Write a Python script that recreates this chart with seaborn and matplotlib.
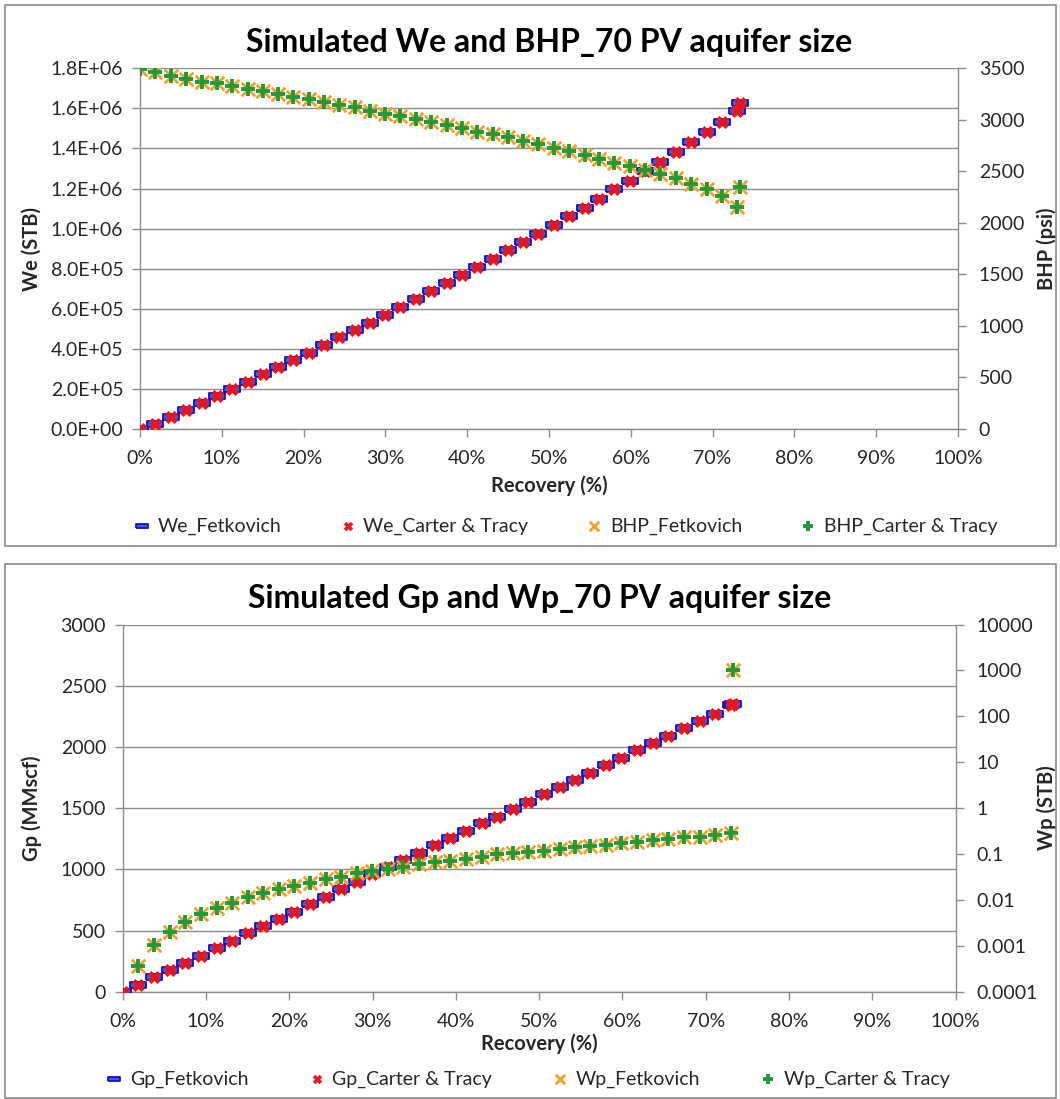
import numpy as np
import pandas as pd
import matplotlib
matplotlib.use("Agg")
import matplotlib.pyplot as plt
import seaborn as sns
from matplotlib.ticker import FuncFormatter, MultipleLocator, FixedLocator, NullLocator
from matplotlib.patches import Rectangle

# ---------------- data ----------------
recovery = [0.00, 1.85, 3.76, 5.62, 7.52, 9.40, 11.30, 13.18, 15.04, 16.90, 18.76,
            20.62, 22.48, 24.35, 26.24, 28.12, 29.98, 31.84, 33.70, 35.60, 37.48,
            39.35, 41.20, 43.10, 44.95, 46.82, 48.70, 50.56, 52.46, 54.34, 56.10,
            58.00, 59.85, 61.74, 63.61, 65.48, 67.42, 69.27, 71.12, 73.03, 73.31]

we_fetkovich = [0, 26000, 58000, 93000, 128000, 163000, 198000, 235000, 273000, 309000,
                344000, 381000, 418000, 458000, 492000, 530000, 569000, 607000, 647000,
                689000, 727000, 768000, 810000, 847000, 893000, 933000, 973000, 1016000,
                1063000, 1104000, 1148000, 1196000, 1239000, 1287000, 1334000, 1381000,
                1431000, 1482000, 1533000, 1587000, 1625000]
we_carter_tracy = [0, 26000, 58000, 93000, 128000, 163000, 198000, 235000, 273000, 309000,
                   344000, 381000, 418000, 458000, 492000, 530000, 569000, 607000, 647000,
                   689000, 727000, 768000, 810000, 847000, 893000, 933000, 973000, 1016000,
                   1063000, 1104000, 1148000, 1196000, 1239000, 1287000, 1334000, 1381000,
                   1431000, 1482000, 1533000, 1587000, 1625000]

bhp_fetkovich = [3495, 3461, 3428, 3393, 3370, 3354, 3328, 3299, 3277, 3253, 3224, 3199,
                 3170, 3144, 3120, 3089, 3056, 3037, 3008, 2976, 2950, 2918, 2885, 2862,
                 2830, 2797, 2765, 2730, 2697, 2659, 2620, 2578, 2552, 2513, 2471, 2433,
                 2377, 2326, 2261, 2157, 2345]
bhp_carter_tracy = [3495, 3461, 3428, 3393, 3370, 3354, 3328, 3299, 3277, 3253, 3224, 3199,
                    3170, 3144, 3120, 3089, 3056, 3037, 3008, 2976, 2950, 2918, 2885, 2862,
                    2830, 2797, 2765, 2730, 2697, 2659, 2620, 2578, 2552, 2513, 2471, 2433,
                    2377, 2326, 2261, 2157, 2345]

gp_fetkovich = [0, 55, 117, 177, 237, 292, 355, 417, 477, 537, 594, 654, 717, 776, 839,
                894, 959, 1016, 1076, 1131, 1197, 1253, 1315, 1376, 1430, 1493, 1552, 1615,
                1675, 1730, 1789, 1852, 1912, 1975, 2029, 2092, 2152, 2212, 2266, 2342, 2350]
gp_carter_tracy = [0, 55, 117, 177, 237, 292, 355, 417, 477, 537, 594, 654, 717, 776, 839,
                   894, 959, 1016, 1076, 1131, 1197, 1253, 1315, 1376, 1430, 1493, 1552, 1615,
                   1675, 1730, 1789, 1852, 1912, 1975, 2029, 2092, 2152, 2212, 2266, 2342, 2350]

wp_fetkovich = [0, 0.00036, 0.00104, 0.00203, 0.00335, 0.0049, 0.0066, 0.0087, 0.0114,
                0.0139, 0.0170, 0.0201, 0.0237, 0.0281, 0.0310, 0.038, 0.0427, 0.0465,
                0.0528, 0.0597, 0.066, 0.0715, 0.0767, 0.0873, 0.0984, 0.1035, 0.112,
                0.118, 0.1285, 0.140, 0.152, 0.161, 0.174, 0.180, 0.202, 0.209, 0.231,
                0.238, 0.259, 0.282, 1000]
wp_carter_tracy = [0, 0.00036, 0.00104, 0.00203, 0.00335, 0.0049, 0.0066, 0.0087, 0.0114,
                   0.0139, 0.0170, 0.0201, 0.0237, 0.0281, 0.0310, 0.038, 0.0427, 0.0465,
                   0.0528, 0.0597, 0.066, 0.0715, 0.0767, 0.0873, 0.0984, 0.1035, 0.112,
                   0.118, 0.1285, 0.140, 0.152, 0.161, 0.174, 0.180, 0.202, 0.209, 0.231,
                   0.238, 0.259, 0.282, 1000]

top_labels = ["We_Fetkovich", "We_Carter & Tracy", "BHP_Fetkovich", "BHP_Carter & Tracy"]
bot_labels = ["Gp_Fetkovich", "Gp_Carter & Tracy", "Wp_Fetkovich", "Wp_Carter & Tracy"]

df = pd.DataFrame({
    "recovery": recovery,
    "we_fet": we_fetkovich, "we_ct": we_carter_tracy,
    "bhp_fet": bhp_fetkovich, "bhp_ct": bhp_carter_tracy,
    "gp_fet": gp_fetkovich, "gp_ct": gp_carter_tracy,
    "wp_fet": wp_fetkovich, "wp_ct": wp_carter_tracy,
})
dfw = df[df["wp_fet"] > 0]

# ---------------- style ----------------
sns.set_style("white")
plt.rcParams["font.family"] = ["Lato", "DejaVu Sans"]
GRID = "#8c8c8c"
TXT = "#262626"
TICK_FS = 14
LAB_FS = 14.5
LEG_FS = 14

W, H = 1060, 1099
fig = plt.figure(figsize=(W / 100, H / 100), dpi=100)
fig.patch.set_facecolor("white")

def box(l, t, r, b):
    return [l / W, 1 - b / H, (r - l) / W, (b - t) / H]

# panel frames
for (l, t, r, b) in [(5, 5, 1056, 546), (5, 564, 1056, 1098)]:
    fig.add_artist(Rectangle((l / W, 1 - b / H), (r - l) / W, (b - t) / H,
                             transform=fig.transFigure, fill=False,
                             edgecolor="#8a8a8a", linewidth=1.2))

dash_marker = [(-1, -0.4), (1, -0.4), (1, 0.4), (-1, 0.4), (-1, -0.4)]
BLUE_F, BLUE_E = "#3a5ae8", "#1010c0"
RED = "#e8141e"
ORANGE = "#f2a024"
GREEN = "#1f9a3a"

def draw_series(ax_l, ax_r, data_l, data_r, cols, labels):
    sns.scatterplot(data=data_l, x="recovery", y=cols[0], ax=ax_l, marker=dash_marker,
                    s=130, color=BLUE_F, edgecolor=BLUE_E, linewidth=1.3,
                    label=labels[0], legend=False, zorder=3)
    sns.scatterplot(data=data_l, x="recovery", y=cols[1], ax=ax_l, marker="X",
                    s=75, color=RED, edgecolor=RED, linewidth=0.5,
                    label=labels[1], legend=False, zorder=4)
    sns.scatterplot(data=data_r, x="recovery", y=cols[2], ax=ax_r, marker="x",
                    s=95, color=ORANGE, linewidth=2.0,
                    label=labels[2], legend=False, zorder=3)
    sns.scatterplot(data=data_r, x="recovery", y=cols[3], ax=ax_r, marker="+",
                    s=95, color=GREEN, linewidth=2.8,
                    label=labels[3], legend=False, zorder=4)

def style_axes(ax, axr, xlabpad):
    for sp in ["top", "right"]:
        ax.spines[sp].set_visible(False)
    for sp in ["top", "left", "bottom"]:
        axr.spines[sp].set_visible(False)
    for sp in ["left", "bottom"]:
        ax.spines[sp].set_color(GRID)
        ax.spines[sp].set_linewidth(1.0)
    axr.spines["right"].set_color(GRID)
    axr.spines["right"].set_linewidth(1.0)
    ax.yaxis.grid(True, color=GRID, linewidth=1.0)
    ax.xaxis.grid(False)
    axr.grid(False)
    ax.set_axisbelow(True)
    ax.set_xlim(0, 100)
    ax.xaxis.set_major_locator(MultipleLocator(10))
    ax.xaxis.set_major_formatter(FuncFormatter(lambda v, p: f"{v:.0f}%"))
    ax.tick_params(axis="y", which="major", direction="out", length=6, width=1,
                   color=GRID, labelsize=TICK_FS, labelcolor=TXT, pad=6, left=True)
    ax.tick_params(axis="x", which="major", direction="out", length=6, width=1,
                   color=GRID, labelsize=TICK_FS, labelcolor=TXT, pad=9, bottom=True)
    axr.tick_params(axis="y", which="major", direction="out", length=6, width=1,
                    color=GRID, labelsize=TICK_FS, labelcolor=TXT, pad=9, right=True)
    axr.tick_params(axis="y", which="minor", length=0)
    ax.set_xlabel("Recovery (%)", fontsize=LAB_FS, fontweight="bold", color=TXT,
                  labelpad=xlabpad)

def place_ylabels(ax, axr, left_px, x0, x1):
    span = x1 - x0
    ax.yaxis.set_label_coords((42 - x0) / span, 0.5)
    axr.yaxis.set_label_coords((1036 - x0) / span, 0.5)

# ---------------- top chart ----------------
ax1 = fig.add_axes(box(140, 68.3, 958, 429))
ax1r = ax1.twinx()
draw_series(ax1, ax1r, df, df, ["we_fet", "we_ct", "bhp_fet", "bhp_ct"], top_labels)
ax1.set_ylim(0, 1.8e6)
ax1.yaxis.set_major_locator(MultipleLocator(2e5))
ax1.yaxis.set_major_formatter(FuncFormatter(lambda v, p: f"{v:.1E}"))
ax1r.set_ylim(0, 3500)
ax1r.yaxis.set_major_locator(MultipleLocator(500))
ax1r.yaxis.set_major_formatter(FuncFormatter(lambda v, p: f"{v:.0f}"))
style_axes(ax1, ax1r, 6)
ax1.set_ylabel("We (STB)", fontsize=LAB_FS, fontweight="bold", color=TXT)
ax1r.set_ylabel("BHP (psi)", fontsize=LAB_FS, fontweight="bold", color=TXT)
place_ylabels(ax1, ax1r, 42, 140, 958)
ax1.set_title("Simulated We and BHP_70 PV aquifer size", fontsize=23, fontweight="bold",
              color="black", pad=12)

# ---------------- bottom chart ----------------
ax2 = fig.add_axes(box(122.7, 624.5, 955.7, 991.7))
ax2r = ax2.twinx()
draw_series(ax2, ax2r, df, dfw, ["gp_fet", "gp_ct", "wp_fet", "wp_ct"], bot_labels)
ax2.set_ylim(0, 3000)
ax2.yaxis.set_major_locator(MultipleLocator(500))
ax2.yaxis.set_major_formatter(FuncFormatter(lambda v, p: f"{v:.0f}"))
ax2r.set_yscale("log")
ax2r.set_ylim(1e-4, 1e4)
ax2r.yaxis.set_major_locator(FixedLocator([10.0 ** k for k in range(-4, 5)]))
ax2r.yaxis.set_minor_locator(NullLocator())
ax2r.yaxis.set_major_formatter(FuncFormatter(lambda v, p: f"{v:g}"))
style_axes(ax2, ax2r, 3)
ax2.set_ylabel("Gp (MMscf)", fontsize=LAB_FS, fontweight="bold", color=TXT)
ax2r.set_ylabel("Wp (STB)", fontsize=LAB_FS, fontweight="bold", color=TXT)
place_ylabels(ax2, ax2r, 42, 122.7, 955.7)
ax2.set_title("Simulated Gp and Wp_70 PV aquifer size", fontsize=23, fontweight="bold",
              color="black", pad=12)

# ---------------- legends ----------------
def add_legend(ax, axr, cx, cy, colspace):
    h1, l1 = ax.get_legend_handles_labels()
    h2, l2 = axr.get_legend_handles_labels()
    leg = fig.legend(h1 + h2, l1 + l2, ncol=4, loc="center",
                     bbox_to_anchor=(cx / W, 1 - cy / H), frameon=False,
                     fontsize=LEG_FS, handlelength=0.8, handletextpad=0.4,
                     columnspacing=colspace, scatterpoints=1, markerscale=0.7)
    for t in leg.get_texts():
        t.set_color(TXT)
    return leg

add_legend(ax1, ax1r, 566, 526, 3.0)
add_legend(ax2, ax2r, 528, 1079, 3.1)

fig.savefig("out.png", dpi=100, facecolor="white")
